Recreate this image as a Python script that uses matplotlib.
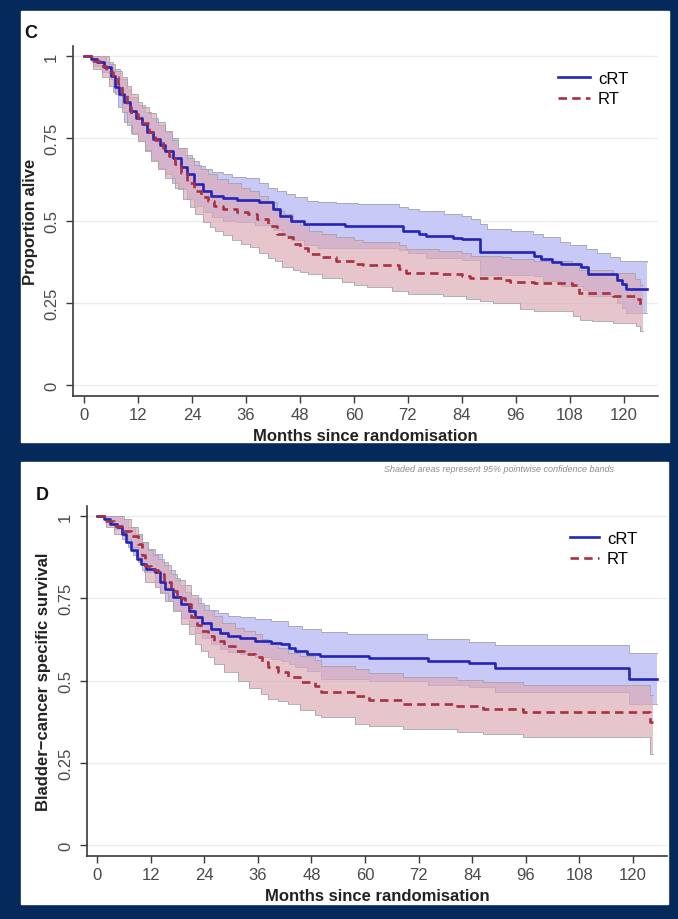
import numpy as np
import matplotlib
matplotlib.use("Agg")
import matplotlib.pyplot as plt
from matplotlib.patches import Rectangle

plt.rcParams['font.family'] = ['Liberation Sans', 'DejaVu Sans']

# ---- Panel C: overall survival ----
c_crt_t = [0, 1.5, 3, 4.5, 6, 7, 7.8, 9, 10.2, 11.5, 12.8, 14, 15.4, 16.8, 18, 19.8, 21.5, 23, 24.5,
           26.5, 28.2, 31, 34, 39, 42, 43.5, 46, 49, 58, 71, 74.5, 76, 82, 84, 88, 100, 101.5, 104,
           106, 110.5, 112, 118.5, 119.5, 120.5, 125.2]
c_crt_s = [1.0, 0.99, 0.98, 0.966, 0.94, 0.905, 0.884, 0.86, 0.834, 0.81, 0.793, 0.77, 0.748, 0.73,
           0.712, 0.69, 0.662, 0.64, 0.611, 0.59, 0.575, 0.567, 0.563, 0.555, 0.535, 0.515, 0.50,
           0.489, 0.484, 0.469, 0.458, 0.452, 0.448, 0.444, 0.403, 0.393, 0.383, 0.375, 0.368, 0.358,
           0.339, 0.32, 0.307, 0.292, 0.292]
c_crt_hi_t = [0, 3, 5, 6.5, 8, 9.5, 10.5, 12, 13.5, 15, 16.5, 18, 19.5, 21, 22.5, 24, 25.5, 27, 28.5,
              31, 33, 36, 39, 41, 43, 45, 47, 49.5, 52, 56, 61, 70, 72, 74.5, 80, 84, 86, 88, 89.5,
              95, 99.8, 102, 105.8, 108, 111.7, 114, 117, 119.1, 125.2]
c_crt_hi = [1.0, 1.0, 0.98, 0.96, 0.93, 0.9, 0.875, 0.85, 0.83, 0.81, 0.79, 0.77, 0.75, 0.72, 0.70,
            0.68, 0.665, 0.655, 0.646, 0.64, 0.633, 0.628, 0.615, 0.60, 0.59, 0.58, 0.57, 0.56,
            0.556, 0.553, 0.55, 0.542, 0.535, 0.53, 0.52, 0.513, 0.505, 0.49, 0.474, 0.468, 0.459,
            0.45, 0.435, 0.425, 0.413, 0.40, 0.39, 0.378, 0.375]
c_crt_lo_t = [0, 2, 4, 5.5, 6.5, 7.6, 9, 10.5, 12, 13.5, 15, 16.5, 18, 19.5, 21, 23, 24.5, 26.5, 28.5,
              31, 34, 38, 42, 44, 46, 49, 52, 70, 72, 76, 84, 88, 100, 102, 106, 111, 112, 118.5,
              119.5, 120.5, 125.2]
c_crt_lo = [1.0, 0.97, 0.95, 0.93, 0.89, 0.845, 0.8, 0.765, 0.74, 0.71, 0.685, 0.66, 0.64, 0.615,
            0.595, 0.565, 0.545, 0.525, 0.51, 0.5, 0.495, 0.485, 0.47, 0.455, 0.44, 0.425, 0.415,
            0.41, 0.40, 0.385, 0.38, 0.335, 0.33, 0.315, 0.30, 0.29, 0.27, 0.25, 0.235, 0.22, 0.22]

c_rt_t = [0, 2, 3.5, 5, 6.5, 7.6, 8.5, 9.5, 10.5, 12, 13, 14.5, 15.8, 17.5, 19, 20.2, 21.5, 23, 24.5,
          26, 27.6, 29, 31, 34, 36.5, 38.5, 41, 43, 44.5, 46.5, 48, 49.8, 53, 56, 60, 62, 70, 71.5,
          79, 84, 85.8, 93, 94.7, 100, 108.5, 110, 117.5, 122.5, 123.6, 124.2]
c_rt_s = [1.0, 0.985, 0.97, 0.95, 0.935, 0.915, 0.88, 0.845, 0.824, 0.81, 0.795, 0.77, 0.743, 0.72,
          0.695, 0.672, 0.645, 0.615, 0.59, 0.57, 0.56, 0.545, 0.535, 0.527, 0.52, 0.505, 0.484,
          0.46, 0.449, 0.43, 0.415, 0.398, 0.39, 0.378, 0.368, 0.365, 0.354, 0.342, 0.337, 0.33,
          0.324, 0.318, 0.314, 0.31, 0.304, 0.28, 0.271, 0.261, 0.241, 0.241]
c_rt_hi_t = [0, 4, 5.5, 7, 8.4, 9.5, 10.5, 12, 13, 14.5, 16, 18, 19.5, 21, 23, 24.5, 26, 27.6, 29.5,
             32, 35, 37, 39, 41, 43, 44.5, 46.5, 48, 50, 53, 56, 60, 62, 70, 71.5, 79, 84, 86, 93,
             95, 100, 108.5, 110, 117.5, 122.5, 123.6, 124.2]
c_rt_hi = [1.0, 1.0, 0.975, 0.955, 0.935, 0.91, 0.885, 0.86, 0.845, 0.825, 0.80, 0.773, 0.745, 0.72,
           0.69, 0.67, 0.655, 0.641, 0.625, 0.615, 0.60, 0.59, 0.575, 0.555, 0.53, 0.52, 0.50,
           0.485, 0.469, 0.46, 0.45, 0.44, 0.435, 0.425, 0.413, 0.408, 0.40, 0.393, 0.388, 0.383,
           0.378, 0.372, 0.35, 0.34, 0.322, 0.305, 0.305]
c_rt_lo_t = [0, 2, 4, 5.5, 7, 8.5, 9.5, 10.6, 12, 13.5, 15, 16.5, 18, 20.2, 22, 23.5, 24.7, 26.5, 28,
             29.1, 31, 33, 35, 37, 39, 41, 42.4, 44, 46.5, 48, 49.8, 53, 57.3, 60, 63, 68.5, 72,
             79.8, 85, 88, 91, 97, 100, 108.7, 110.2, 113, 117.6, 122.8, 123.6, 124.2]
c_rt_lo = [1.0, 0.96, 0.935, 0.91, 0.885, 0.83, 0.79, 0.763, 0.74, 0.715, 0.682, 0.655, 0.63, 0.60,
           0.565, 0.54, 0.52, 0.495, 0.48, 0.469, 0.455, 0.44, 0.429, 0.42, 0.40, 0.385, 0.378,
           0.36, 0.35, 0.343, 0.337, 0.325, 0.312, 0.305, 0.298, 0.287, 0.278, 0.271, 0.262, 0.255,
           0.25, 0.231, 0.226, 0.21, 0.198, 0.195, 0.19, 0.18, 0.165, 0.165]

# ---- Panel D: bladder-cancer specific survival ----
d_crt_t = [0, 1.5, 3, 4.5, 5.5, 6.5, 7.7, 9, 9.9, 11, 12.9, 14, 15.2, 17, 18.9, 20.5, 21.9, 23.5,
           25.6, 27.5, 29.3, 32, 35.3, 39, 41.3, 43, 44.3, 47, 50, 61, 74, 83.3, 89.1, 119, 125.4]
d_crt_s = [1.0, 0.99, 0.976, 0.965, 0.945, 0.92, 0.895, 0.87, 0.854, 0.84, 0.829, 0.80, 0.778, 0.755,
           0.733, 0.71, 0.692, 0.675, 0.657, 0.645, 0.636, 0.628, 0.621, 0.615, 0.611, 0.60, 0.591,
           0.582, 0.575, 0.567, 0.558, 0.552, 0.537, 0.505, 0.505]
d_crt_hi_t = [0, 4, 5.5, 7, 8.5, 10, 11.4, 13, 14.5, 16, 17.5, 18.5, 19.6, 21, 23.3, 25, 27, 29.3, 32,
              35.3, 39, 42.8, 46, 50.2, 56, 61, 73.8, 83.3, 89.1, 119, 125.4]
d_crt_hi = [1.0, 1.0, 0.99, 0.965, 0.945, 0.92, 0.90, 0.885, 0.86, 0.835, 0.81, 0.79, 0.77, 0.752,
            0.73, 0.715, 0.705, 0.697, 0.692, 0.687, 0.68, 0.666, 0.656, 0.646, 0.642, 0.64, 0.626,
            0.618, 0.608, 0.583, 0.583]
d_crt_lo_t = [0, 2, 3.9, 5.5, 7, 8, 9.2, 10.5, 12.9, 14, 15.2, 17, 18.9, 20.5, 21.9, 23.5, 25.6, 27.5,
              29.3, 32, 35.3, 39, 41.3, 43, 44.3, 47, 50.2, 61, 74, 83.3, 89.1, 119, 125.4]
d_crt_lo = [1.0, 0.98, 0.96, 0.94, 0.905, 0.88, 0.86, 0.83, 0.80, 0.77, 0.742, 0.715, 0.69, 0.665,
            0.645, 0.628, 0.61, 0.597, 0.588, 0.58, 0.572, 0.566, 0.56, 0.55, 0.54, 0.53, 0.505,
            0.497, 0.487, 0.48, 0.465, 0.43, 0.43]

d_rt_t = [0, 2, 3.9, 5.5, 7.7, 9.2, 10, 10.7, 12, 13.7, 15, 16.6, 18, 19.6, 21.1, 22.3, 23.3, 24.8,
          26.3, 28.5, 30.8, 33, 35.3, 37, 38.3, 40.5, 42.8, 45.5, 48.7, 50.2, 57.7, 61, 68.6, 80.5,
          86.5, 95.4, 123.8, 124.5]
d_rt_s = [1.0, 0.985, 0.97, 0.955, 0.94, 0.915, 0.88, 0.849, 0.835, 0.824, 0.80, 0.773, 0.75, 0.733,
          0.692, 0.67, 0.651, 0.635, 0.621, 0.605, 0.591, 0.58, 0.570, 0.555, 0.540, 0.525, 0.510,
          0.495, 0.484, 0.464, 0.454, 0.442, 0.429, 0.422, 0.413, 0.405, 0.373, 0.373]
d_rt_hi_t = [0, 5, 6, 7.7, 9.2, 10, 11.4, 12.5, 13.7, 15, 16.6, 18, 19.6, 21.1, 22.6, 24, 26.3, 28,
             30.8, 33, 35.3, 37, 38.3, 40.5, 42.8, 45.5, 48.7, 50.2, 57.7, 61, 68.6, 80.5, 86.5,
             95.4, 123.8, 124.5]
d_rt_hi = [1.0, 1.0, 0.99, 0.965, 0.945, 0.92, 0.895, 0.88, 0.87, 0.85, 0.824, 0.805, 0.79, 0.76,
           0.735, 0.715, 0.695, 0.675, 0.66, 0.65, 0.64, 0.625, 0.61, 0.598, 0.585, 0.575, 0.562,
           0.545, 0.535, 0.522, 0.51, 0.503, 0.494, 0.486, 0.455, 0.455]
d_rt_lo_t = [0, 2, 3.9, 5.5, 7.7, 9.2, 10, 10.7, 12.9, 14, 15.9, 17, 18.9, 20.5, 21.9, 23.3, 24.8,
             26.3, 28.5, 31.6, 34, 36.8, 38.3, 40.5, 42.8, 45.5, 48.7, 50.2, 57.7, 61, 68.6, 80.5,
             86.5, 95.4, 123.8, 124.5]
d_rt_lo = [1.0, 0.965, 0.945, 0.93, 0.905, 0.875, 0.835, 0.80, 0.783, 0.765, 0.742, 0.71, 0.672,
           0.64, 0.611, 0.59, 0.57, 0.55, 0.525, 0.50, 0.478, 0.459, 0.445, 0.437, 0.429, 0.41,
           0.395, 0.388, 0.368, 0.363, 0.353, 0.343, 0.338, 0.327, 0.277, 0.277]

x_ticks = [0, 12, 24, 36, 48, 60, 72, 84, 96, 108, 120]
y_ticks = [0, 0.25, 0.5, 0.75, 1]
y_tick_labels = ['0', '0.25', '0.5', '0.75', '1']
group_labels = ['cRT', 'RT']

W, H = 678, 920
NAVY = '#04295a'
BLUE = '#2424b8'
RED = '#a8303f'
BLUE_FILL = '#c9c9f7'
PINK_FILL = '#dcaab6'
EDGE = '#a4a4ac'


def step_at(times, vals, grid):
    idx = np.searchsorted(times, grid, side='right') - 1
    return np.asarray(vals)[np.clip(idx, 0, None)]


def draw_band(ax, lo_t, lo, hi_t, hi, color, alpha, z):
    grid = np.unique(np.concatenate([lo_t, hi_t]))
    ax.fill_between(grid, step_at(lo_t, lo, grid), step_at(hi_t, hi, grid),
                    step='post', color=color, alpha=alpha, lw=0, zorder=z)
    ax.step(lo_t, lo, where='post', color=EDGE, lw=0.6, zorder=z + 0.1)
    ax.step(hi_t, hi, where='post', color=EDGE, lw=0.6, zorder=z + 0.1)


def make_panel(fig, box, xlim, ylabel, letter, letter_xy, leg_anchor, leg_len, data):
    left, top, right, bottom = box
    ax = fig.add_axes([left / W, 1 - bottom / H, (right - left) / W, (bottom - top) / H])
    ax.set_facecolor('none')
    crt_t, crt_s, crt_lo_t, crt_lo, crt_hi_t, crt_hi, rt_t, rt_s, rt_lo_t, rt_lo, rt_hi_t, rt_hi = data

    draw_band(ax, crt_lo_t, crt_lo, crt_hi_t, crt_hi, BLUE_FILL, 1.0, 1)
    draw_band(ax, rt_lo_t, rt_lo, rt_hi_t, rt_hi, PINK_FILL, 0.68, 2)
    ax.step(crt_t, crt_s, where='post', color=BLUE, lw=1.9, zorder=4, label=group_labels[0])
    ax.step(rt_t, rt_s, where='post', color=RED, lw=1.9, ls=(0, (3.2, 2.0)), zorder=5,
            label=group_labels[1])

    ax.set_xlim(*xlim)
    ax.set_ylim(-0.033, 1.03)
    ax.set_xticks(x_ticks)
    ax.set_yticks(y_ticks)
    ax.set_yticklabels(y_tick_labels, rotation=90, va='center')
    ax.grid(axis='y', color='#ececec', lw=1.0, zorder=0)
    ax.set_axisbelow(True)
    for s in ['top', 'right']:
        ax.spines[s].set_visible(False)
    for s in ['left', 'bottom']:
        ax.spines[s].set_color('#3a3a3a')
        ax.spines[s].set_linewidth(1.2)
    ax.tick_params(direction='out', length=5, width=1, color='#3a3a3a', labelsize=12,
                   labelcolor='#4a4a4a')
    ax.tick_params(axis='y', pad=5)
    ax.tick_params(axis='x', pad=3)

    ax.set_xlabel('Months since randomisation', fontsize=12, fontweight='bold', color='#222222')
    ax.xaxis.set_label_coords(0.5, -0.114)
    ax.xaxis.label.set_va('center')
    ax.set_ylabel(ylabel, fontsize=12, fontweight='bold', color='#222222')
    ax.yaxis.set_label_coords((letter_xy[2] - left) / (right - left), 0.5)
    ax.yaxis.label.set_va('center')

    ax.legend(loc='upper left', bbox_to_anchor=leg_anchor, frameon=False, fontsize=12,
              handlelength=leg_len, handletextpad=0.45, labelspacing=0.35,
              borderaxespad=0, borderpad=0)
    fig.text(letter_xy[0] / W, 1 - letter_xy[1] / H, letter, fontsize=13, fontweight='bold',
             ha='center', va='center', color='#111111')
    return ax


def main():
    fig = plt.figure(figsize=(W / 100, H / 100), dpi=100)
    fig.patch.set_facecolor(NAVY)

    # white panels, kept behind the axes
    fig.patches.append(Rectangle((21 / W, 1 - 443 / H), (669 - 21) / W, (443 - 12) / H,
                                 transform=fig.transFigure, color='white', zorder=-5))
    fig.patches.append(Rectangle((21 / W, 1 - 905 / H), (668 - 21) / W, (905 - 463) / H,
                                 transform=fig.transFigure, color='white', zorder=-5))

    data_c = (c_crt_t, c_crt_s, c_crt_lo_t, c_crt_lo, c_crt_hi_t, c_crt_hi,
              c_rt_t, c_rt_s, c_rt_lo_t, c_rt_lo, c_rt_hi_t, c_rt_hi)
    data_d = (d_crt_t, d_crt_s, d_crt_lo_t, d_crt_lo, d_crt_hi_t, d_crt_hi,
              d_rt_t, d_rt_s, d_rt_lo_t, d_rt_lo, d_rt_hi_t, d_rt_hi)

    make_panel(fig, (73, 47, 658, 397), (-2.44, 127.6), 'Proportion alive', 'C',
               (31, 34, 30), (0.829, 0.93), 1.95, data_c)
    make_panel(fig, (87, 507, 667, 857), (-2.24, 127.6), 'Bladder\u2212cancer specific survival',
               'D', (42, 496, 44), (0.833, 0.93), 1.75, data_d)

    fig.text(499 / W, 1 - 470 / H, 'Shaded areas represent 95% pointwise confidence bands',
             fontsize=6.5, style='italic', color='#8c8c8c', ha='center', va='center')

    fig.savefig('out.png', dpi=100, facecolor=fig.get_facecolor())
    plt.close(fig)


if __name__ == "__main__":
    main()
